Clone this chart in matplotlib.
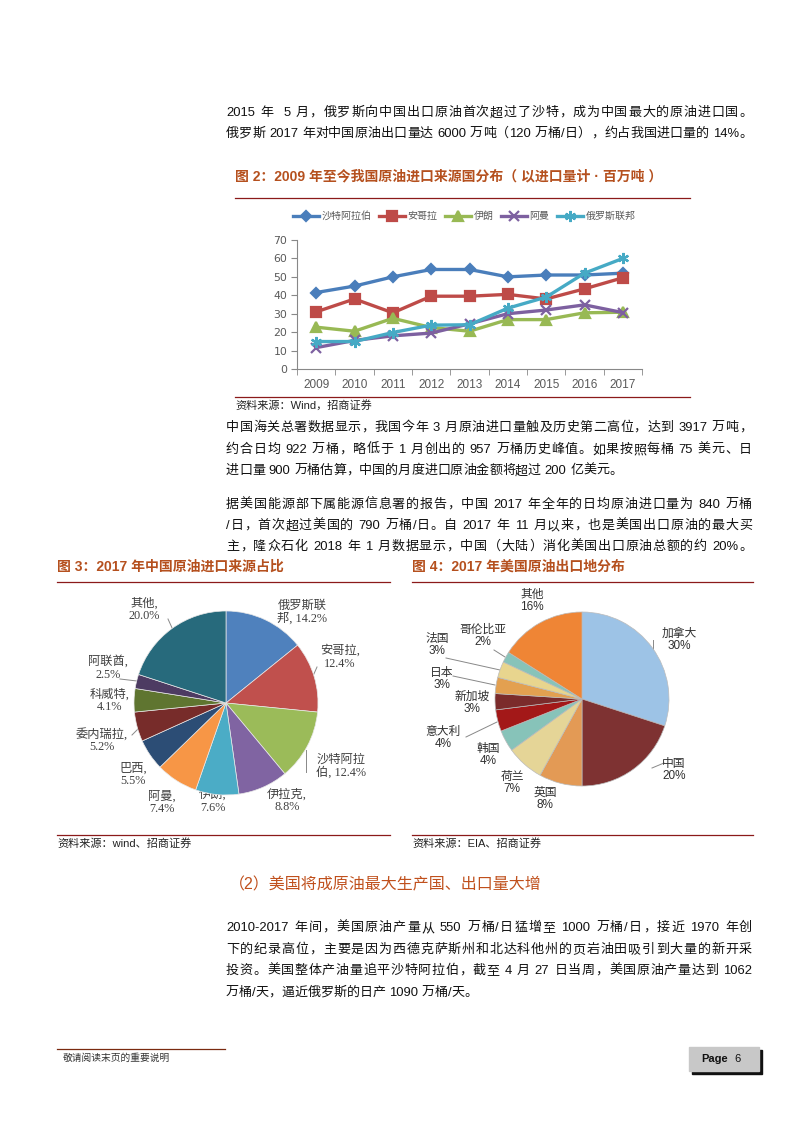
import re
import matplotlib
matplotlib.use('Agg')
from matplotlib import pyplot as plt

W, H = 794, 1123
SANS = ['Liberation Sans', 'Noto Sans CJK SC']
SERIF = ['Liberation Serif', 'Noto Sans CJK SC']
CAPTION = '#B5501E'
RULE = '#8B1A1A'

# figure 2: imports by source country (million tonnes)
years = ['2009', '2010', '2011', '2012', '2013', '2014', '2015', '2016', '2017']
saudi = [41.5, 45, 50, 54, 54, 50, 51, 51, 52]
angola = [31, 38, 30.5, 39.5, 39.5, 40.5, 38, 43.5, 49.5]
iran = [22.7, 20.5, 27.5, 22.5, 20.5, 26.8, 26.8, 30.5, 30.8]
oman = [11.6, 15.5, 18, 19.5, 24.5, 30, 32, 34.8, 30.6]
russia = [14.9, 14.9, 19.8, 23.8, 24, 33, 39, 52, 60]
series_names = ['沙特阿拉伯', '安哥拉', '伊朗', '阿曼', '俄罗斯联邦']

# figure 3: China's 2017 crude import sources (%)
cn_names = ['俄罗斯联邦', '安哥拉', '沙特阿拉伯', '伊拉克', '伊朗', '阿曼', '巴西',
            '委内瑞拉', '科威特', '阿联酋', '其他']
cn_share = [14.2, 12.4, 12.4, 8.8, 7.6, 7.4, 5.5, 5.2, 4.1, 2.5, 20.0]
cn_labels = ['俄罗斯联\n邦, 14.2%', '安哥拉,\n12.4%', '沙特阿拉\n伯, 12.4%', '伊拉克,\n8.8%',
             '伊朗,\n7.6%', '阿曼,\n7.4%', '巴西,\n5.5%', '委内瑞拉,\n5.2%', '科威特,\n4.1%',
             '阿联酋,\n2.5%', '其他,\n20.0%']

# figure 4: US 2017 crude export destinations (%)
us_names = ['加拿大', '中国', '英国', '荷兰', '韩国', '意大利', '新加坡', '日本', '法国',
            '哥伦比亚', '其他']
us_share = [30, 20, 8, 7, 4, 4, 3, 3, 3, 2, 16]

fig = plt.figure(figsize=(W / 100, H / 100), dpi=100)


def box(x0, y0, x1, y1):
    return fig.add_axes([x0 / W, 1 - y1 / H, (x1 - x0) / W, (y1 - y0) / H])


ov = box(0, 0, W, H)
ov.set_xlim(0, W)
ov.set_ylim(H, 0)
ov.axis('off')
ov.patch.set_visible(False)
renderer = fig.canvas.get_renderer()


def para_line(text, y, justify=True, x0=226, x1=752, size=9.4, color='#111111'):
    tokens = re.findall(r'[A-Za-z0-9%./\-]+| |.', text)
    objs, widths = [], []
    for t in tokens:
        if t == ' ':
            objs.append(None)
            widths.append(size * 0.28 * 100 / 72)
            continue
        o = ov.text(0, y, t, fontsize=size, va='center', ha='left', family=SANS, color=color)
        objs.append(o)
        widths.append(o.get_window_extent(renderer).width)
    gap = (x1 - x0 - sum(widths)) / (len(tokens) - 1) if justify else 0
    x = x0
    for o, w in zip(objs, widths):
        if o is not None:
            o.set_x(x)
        x += w + gap


def caption(text, x0, x1, y, rule_y):
    ov.text(x0, y, text, fontsize=10, fontweight='bold', color=CAPTION, family=SANS, va='center')
    ov.plot([x0, x1], [rule_y, rule_y], color=RULE, lw=0.9)


def source(text, x0, x1, y):
    ov.plot([x0, x1], [y - 8, y - 8], color=RULE, lw=0.9)
    ov.text(x0, y, text, fontsize=8, color='#222222', family=SANS, va='center')


# body text
para_line('2015 年  5 月，俄罗斯向中国出口原油首次超过了沙特，成为中国最大的原油进口国。', 113)
para_line('俄罗斯 2017 年对中国原油出口量达 6000 万吨（120 万桶/日），约占我国进口量的 14%。', 134)

para_line('中国海关总署数据显示，我国今年 3 月原油进口量触及历史第二高位，达到 3917 万吨，', 428)
para_line('约合日均 922 万桶，略低于 1 月创出的 957 万桶历史峰值。如果按照每桶 75 美元、日', 450)
para_line('进口量 900 万桶估算，中国的月度进口原油金额将超过 200 亿美元。', 471, justify=False)

para_line('据美国能源部下属能源信息署的报告，中国 2017 年全年的日均原油进口量为 840 万桶', 505)
para_line('/日，首次超过美国的 790 万桶/日。自 2017 年 11 月以来，也是美国出口原油的最大买', 526)
para_line('主，隆众石化 2018 年 1 月数据显示，中国（大陆）消化美国出口原油总额的约 20%。', 547)

ov.text(229, 885, '（2）美国将成原油最大生产国、出口量大增', fontsize=11.5, color='#C0501C',
        family=SANS, va='center')

para_line('2010-2017 年间，美国原油产量从 550 万桶/日猛增至 1000 万桶/日，接近 1970 年创', 928)
para_line('下的纪录高位，主要是因为西德克萨斯州和北达科他州的页岩油田吸引到大量的新开采', 950)
para_line('投资。美国整体产油量追平沙特阿拉伯，截至 4 月 27 日当周，美国原油产量达到 1062', 971)
para_line('万桶/天，逼近俄罗斯的日产 1090 万桶/天。', 993, justify=False)

# figure 2: line chart
caption('图 2：2009 年至今我国原油进口来源国分布（ 以进口量计 · 百万吨 ）', 235, 690, 176, 198)
source('资料来源：Wind，招商证券', 235, 690, 405)

ax = box(297, 240, 642, 369)
xs = range(len(years))
styles = [
    (saudi, '#4A7EBB', 'D', 5),
    (angola, '#BE4B48', 's', 6.5),
    (iran, '#98B954', '^', 7),
    (oman, '#7D60A0', 'x', 6.5),
    (russia, '#46AAC5', (6, 2, 0), 8),
]
for (vals, col, mk, ms), name in zip(styles, series_names):
    ax.plot(xs, vals, color=col, lw=2.4, marker=mk, ms=ms, mew=1.6, label=name)
ax.set_xlim(-0.5, len(years) - 0.5)
ax.set_ylim(0, 70)
ax.set_yticks(range(0, 71, 10))
ax.set_xticks(list(xs))
ax.set_xticklabels(years, fontsize=8.5, color='#595959', family=SANS)
ax.set_xticks([i - 0.5 for i in range(len(years) + 1)], minor=True)
ax.tick_params(axis='x', which='major', length=0, pad=7)
ax.tick_params(axis='x', which='minor', length=4, color='#888888', direction='out')
ax.tick_params(axis='y', length=4, color='#888888', labelsize=7.8, labelcolor='#595959', pad=3)
for s in ['top', 'right']:
    ax.spines[s].set_visible(False)
for s in ['left', 'bottom']:
    ax.spines[s].set_color('#888888')
    ax.spines[s].set_linewidth(0.8)
leg = ax.legend(loc='center', bbox_to_anchor=(464 / W, 1 - 216 / H), bbox_transform=fig.transFigure,
                ncol=5, frameon=False, handlelength=2.6, columnspacing=0.7,
                handletextpad=0.3, prop={'family': SANS, 'size': 7.2})
for t in leg.get_texts():
    t.set_color('#595959')

# figure 3: China import sources pie
caption('图 3：2017 年中国原油进口来源占比', 57, 390, 567, 582)
source('资料来源：wind、招商证券', 57, 390, 843)
cn_colors = ['#4F81BD', '#C0504D', '#9BBB59', '#8064A2', '#4BACC6', '#F79646',
             '#2C4D75', '#772C2A', '#5F7530', '#4D3B62', '#276A7C']
p1 = box(134, 611, 318, 795)
p1.pie(cn_share, colors=cn_colors, startangle=90, counterclock=False,
       wedgeprops={'edgecolor': '#E8E8E8', 'linewidth': 0.5})
p1.set_xlim(-1, 1)
p1.set_ylim(-1, 1)
p1.set_aspect('equal')
cn_pos = [(302, 612), (340, 657), (341, 766), (287, 801), (213, 801), (162, 803), (133, 775),
          (102, 740), (110, 701), (108, 668), (144, 610)]
for lab, (x, y) in zip(cn_labels, cn_pos):
    ov.text(x, y, lab, fontsize=8.8, color='#404040', family=SERIF, ha='center', va='center',
            linespacing=1.05)
for seg in [((168, 619), (173, 630)), ((120, 679), (137, 681)), ((132, 735), (138, 729)),
            ((317, 667), (313, 676)), ((306, 750), (306, 772))]:
    ov.plot([seg[0][0], seg[1][0]], [seg[0][1], seg[1][1]], color='#888888', lw=0.7)

# figure 4: US export destinations pie
caption('图 4：2017 年美国原油出口地分布', 412, 753, 567, 582)
source('资料来源：EIA、招商证券', 412, 753, 843)
us_colors = ['#9DC3E6', '#7E3232', '#E39A55', '#E5D597', '#87C3B9', '#A31818',
             '#7B2B2B', '#E3A050', '#E8D58E', '#87C3B9', '#EF8535']
p2 = box(495, 612, 669, 786)
p2.pie(us_share, colors=us_colors, startangle=90, counterclock=False,
       wedgeprops={'edgecolor': '#BBBBBB', 'linewidth': 0.5})
p2.set_xlim(-1, 1)
p2.set_ylim(-1, 1)
p2.set_aspect('equal')
us_pos = [(679, 640), (674, 770), (545, 799), (512, 783), (488, 755), (443, 738), (472, 703),
          (442, 679), (437, 645), (483, 636), (532, 601)]
for name, val, (x, y) in zip(us_names, us_share, us_pos):
    ov.text(x, y, f'{name}\n{val}%', fontsize=8.5, color='#303030', family=SANS, ha='center',
            va='center', linespacing=1.05)
for seg in [((653, 640), (653, 653)), ((652, 768), (664, 763)), ((494, 650), (505, 657)),
            ((446, 658), (500, 670)), ((453, 676), (495, 685)), ((466, 737), (497, 722))]:
    ov.plot([seg[0][0], seg[1][0]], [seg[0][1], seg[1][1]], color='#888888', lw=0.7)

# footer
ov.plot([57, 225], [1049, 1049], color='#7A2A10', lw=0.9)
ov.text(63, 1058, '敬请阅读末页的重要说明', fontsize=7, color='#333333', family=SANS, va='center')
ov.add_patch(plt.Rectangle((692, 1050), 70, 24, color='#111111'))
ov.add_patch(plt.Rectangle((689, 1047), 70, 24, color='#C8C8C8'))
ov.text(701, 1059, 'Page', fontsize=8, fontweight='bold', color='#111111', family=SANS, va='center')
ov.text(734, 1059, '6', fontsize=8, color='#111111', family=SANS, va='center')

fig.savefig('out.png', dpi=100)
